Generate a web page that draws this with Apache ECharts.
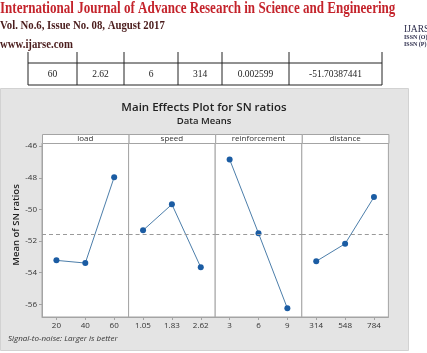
<!DOCTYPE html>
<html><head><meta charset="utf-8">
<script src="https://cdn.jsdelivr.net/npm/echarts@6/dist/echarts.min.js"></script>
<style>html,body{margin:0;padding:0;background:#fff}#c{width:427px;height:353px}</style>
</head><body><div id="c"></div>
<script>
// ---- data ----
const factorNames = ['load', 'speed', 'reinforcement', 'distance'];
const loadLevels = ['20', '40', '60'];
const loadSN = [-53.22, -53.39, -47.96];
const speedLevels = ['1.05', '1.83', '2.62'];
const speedSN = [-51.32, -49.68, -53.66];
const reinforcementLevels = ['3', '6', '9'];
const reinforcementSN = [-46.84, -51.51, -56.25];
const distanceLevels = ['314', '548', '784'];
const distanceSN = [-53.28, -52.17, -49.22];
const yTickValues = [-56, -54, -52, -50, -48, -46];
const tableRow = ['60', '2.62', '6', '314', '0.002599', '-51.70387441'];

const levels = [loadLevels, speedLevels, reinforcementLevels, distanceLevels];
const sn = [loadSN, speedSN, reinforcementSN, distanceSN];
const all = sn.flat();
const grandMean = all.reduce((a, b) => a + b, 0) / all.length;

// ---- layout ----
const gLeft = 42, gW = 86.6, gTop = 143, gH = 174;
const font = '"Open Sans", "Noto Sans", sans-serif';
const grids = [], xAxes = [], yAxes = [], series = [];
const graphics = [];

// page background elements (document header)
graphics.push(
  {type:'rect', left:0, top:88, z:-10, shape:{width:408, height:262}, style:{fill:'#e4e4e4', stroke:'#d2d2d2', lineWidth:1}},
  {type:'text', x:0, y:1, scaleX:0.815, style:{text:'International Journal of Advance Research in Science and Engineering', font:'bold 16px "Liberation Serif", serif', fill:'#c4232b'}},
  {type:'text', x:0, y:19, scaleX:0.86, style:{text:'Vol. No.6, Issue No. 08, August 2017', font:'bold 12.5px "Liberation Serif", serif', fill:'#4a1c1c'}},
  {type:'text', x:0, y:38, scaleX:0.86, style:{text:'www.ijarse.com', font:'bold 12.5px "Liberation Serif", serif', fill:'#4a1c1c'}},
  {type:'text', x:404, y:24, style:{text:'IJARS', font:'9.5px "Liberation Serif", serif', fill:'#2a2a4a'}},
  {type:'text', x:404, y:34, style:{text:'ISSN (O) 2319', font:'bold 6px "Liberation Serif", serif', fill:'#2a2a4a'}},
  {type:'text', x:404, y:41, style:{text:'ISSN (P) 2319', font:'bold 6px "Liberation Serif", serif', fill:'#2a2a4a'}}
);
// table row
const colX = [28, 77, 124, 178, 222, 289, 382];
colX.forEach(x => graphics.push({type:'line', shape:{x1:x, y1:52, x2:x, y2:85}, style:{stroke:'#222', lineWidth:1}}));
graphics.push({type:'line', shape:{x1:28, y1:63, x2:382, y2:63}, style:{stroke:'#222', lineWidth:1}});
graphics.push({type:'line', shape:{x1:28, y1:85, x2:382, y2:85}, style:{stroke:'#222', lineWidth:1}});
tableRow.forEach((t, i) => graphics.push({type:'text', x:(colX[i] + colX[i+1]) / 2, y:74, style:{text:t, font:'9.5px "Liberation Serif", serif', fill:'#222', textAlign:'center', textVerticalAlign:'middle'}}));

factorNames.forEach((name, i) => {
  const left = gLeft + i * gW;
  grids.push({left: left, top: gTop, width: gW, height: gH, show: true, backgroundColor: '#fff', borderColor: '#a4a4a4', borderWidth: 1});
  xAxes.push({type: 'category', gridIndex: i, data: levels[i], boundaryGap: true,
    axisLine: {show: true, lineStyle: {color: '#a4a4a4'}},
    axisTick: {show: true, alignWithLabel: true, length: 3, lineStyle: {color: '#a4a4a4'}},
    axisLabel: {color: '#333', fontSize: 8, fontFamily: font, margin: 5}});
  yAxes.push({type: 'value', gridIndex: i, min: -56.8, max: -45.8,
    splitLine: {show: false},
    axisLine: {show: i === 0, lineStyle: {color: '#a4a4a4'}},
    axisTick: {show: i === 0, customValues: yTickValues, length: 3, lineStyle: {color: '#a4a4a4'}},
    axisLabel: {show: i === 0, customValues: yTickValues, color: '#333', fontSize: 8, fontFamily: font, margin: 5}});
  series.push({type: 'line', xAxisIndex: i, yAxisIndex: i, data: sn[i],
    symbol: 'circle', symbolSize: 6, itemStyle: {color: '#1b5ca3'},
    lineStyle: {color: '#4c7eaa', width: 1}, animation: false,
    markLine: {silent: true, symbol: 'none', label: {show: false},
      lineStyle: {color: '#9a9a9a', type: [4, 3], width: 1},
      data: [{yAxis: grandMean}]}});
  // strip header
  graphics.push({type: 'rect', left: left, top: 134, z: 5, shape: {width: gW, height: 9}, style: {fill: '#fff', stroke: '#a4a4a4', lineWidth: 1}});
  graphics.push({type: 'text', x: left + gW / 2, y: 138.5, z: 6, style: {text: name, font: '8px ' + font, fill: '#333', textAlign: 'center', textVerticalAlign: 'middle'}});
});

graphics.push({type: 'text', x: 204, y: 108, style: {text: 'Main Effects Plot for SN ratios', font: '600 11.5px ' + font, fill: '#222', textAlign: 'center', textVerticalAlign: 'middle'}});
graphics.push({type: 'text', x: 204, y: 121, style: {text: 'Data Means', font: '600 9.5px ' + font, fill: '#222', textAlign: 'center', textVerticalAlign: 'middle'}});
graphics.push({type: 'text', x: 16, y: 225, rotation: Math.PI / 2, style: {text: 'Mean of SN ratios', font: '600 9.5px ' + font, fill: '#222', textAlign: 'center', textVerticalAlign: 'middle'}});
graphics.push({type: 'text', left: 8, top: 335, style: {text: 'Signal-to-noise: Larger is better', font: 'italic 8px ' + font, fill: '#333'}});

const chart = echarts.init(document.getElementById('c'), null, {renderer: 'canvas'});
chart.setOption({
  animation: false,
  grid: grids, xAxis: xAxes, yAxis: yAxes, series: series, graphic: graphics
});
</script></body></html>
